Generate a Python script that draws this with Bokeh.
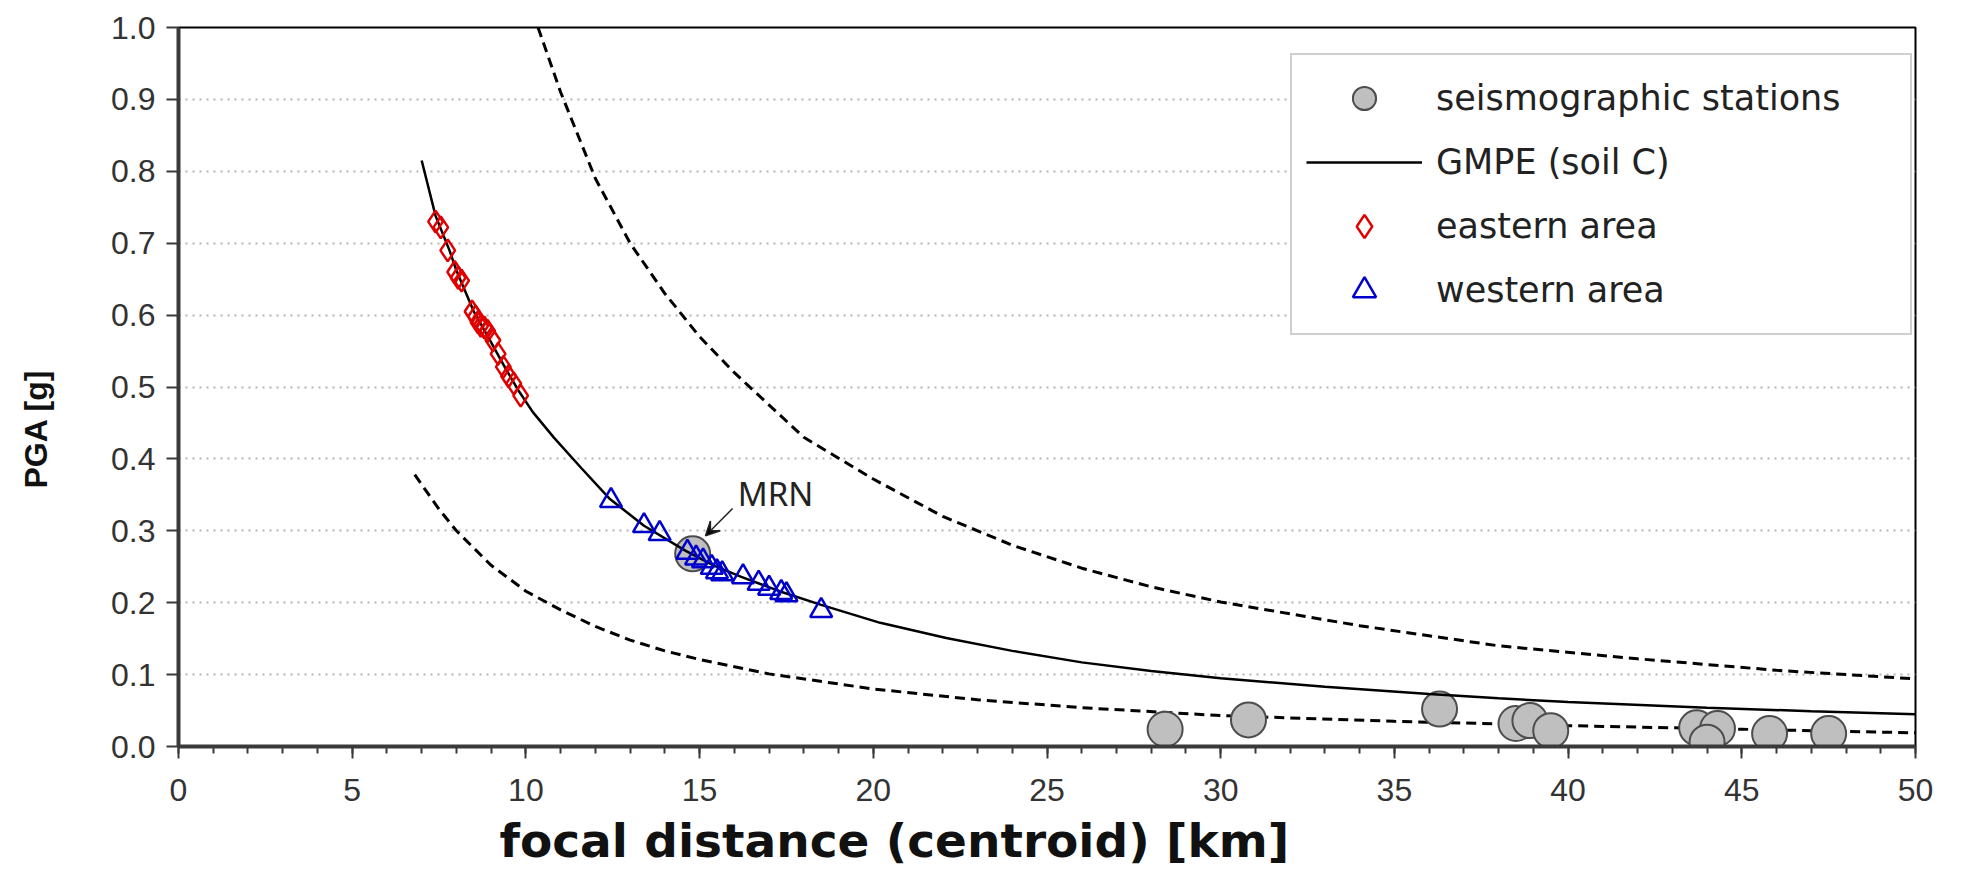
import numpy as np
from bokeh.plotting import figure
from bokeh.models import (Range1d, SingleIntervalTicker, NumeralTickFormatter, Legend,
                          LegendItem, Label, Arrow, VeeHead, Title)
from bokeh.embed import file_html
from bokeh.resources import INLINE

# ---------------- data ----------------
gmpe_dist = [7.0, 7.4, 7.8, 8.0, 8.5, 9.0, 9.4, 9.8, 10.2, 10.8, 11.6, 12.4, 13.4, 14.6, 15.4,
             16.2, 17.3, 18.5, 20.2, 22.1, 24.0, 26.0, 28.0, 30.0, 33.0, 36.0, 38.0, 40.0,
             44.0, 47.0, 50.0]
gmpe_pga = [0.815, 0.738, 0.690, 0.662, 0.605, 0.562, 0.527, 0.494, 0.465, 0.430, 0.387, 0.345,
            0.307, 0.272, 0.252, 0.236, 0.216, 0.197, 0.172, 0.151, 0.133, 0.117, 0.105, 0.095,
            0.083, 0.073, 0.067, 0.062, 0.054, 0.049, 0.045]

upper_dist = [10.35, 11.0, 12.0, 13.0, 14.0, 15.0, 16.0, 18.0, 20.0, 22.0, 24.0, 26.0, 28.0,
              30.0, 34.0, 38.0, 42.0, 46.0, 50.0]
upper_pga = [1.0, 0.91, 0.79, 0.70, 0.63, 0.57, 0.52, 0.43, 0.372, 0.32, 0.28, 0.248, 0.222,
             0.201, 0.168, 0.140, 0.122, 0.106, 0.094]

lower_dist = [6.8, 7.5, 8.0, 9.0, 10.0, 11.0, 12.0, 13.0, 14.0, 15.0, 17.0, 20.0, 23.0, 26.0,
              30.0, 35.0, 40.0, 45.0, 50.0]
lower_pga = [0.378, 0.330, 0.300, 0.252, 0.216, 0.190, 0.167, 0.148, 0.133, 0.121, 0.101, 0.080,
             0.065, 0.054, 0.043, 0.035, 0.029, 0.024, 0.019]

station_dist = [14.8, 28.4, 30.8, 36.3, 38.5, 38.9, 39.5, 43.7, 44.3, 44.0, 45.8, 47.5]
station_pga = [0.268, 0.024, 0.037, 0.052, 0.032, 0.036, 0.022, 0.026, 0.025, 0.006, 0.018, 0.018]

east_dist = [7.40, 7.55, 7.75, 7.95, 8.05, 8.15, 8.45, 8.55, 8.62, 8.70, 8.80, 8.90, 9.05, 9.20,
             9.35, 9.50, 9.65, 9.85]
east_pga = [0.730, 0.722, 0.690, 0.660, 0.652, 0.648, 0.605, 0.598, 0.590, 0.585, 0.583, 0.578,
            0.565, 0.546, 0.528, 0.515, 0.505, 0.488]

west_dist = [12.45, 13.40, 13.85, 14.65, 14.90, 15.10, 15.35, 15.50, 15.65, 16.25, 16.70, 17.00,
             17.35, 17.50, 18.50]
west_pga = [0.342, 0.307, 0.296, 0.270, 0.262, 0.258, 0.249, 0.243, 0.240, 0.236, 0.227, 0.220,
            0.214, 0.211, 0.189]

legend_labels = ["seismographic stations", "GMPE (soil C)", "eastern area", "western area"]
x_title = "focal distance (centroid) [km]"
y_title = "PGA [g]"
mrn_text = "MRN"
mrn_text_pos = (16.1, 0.352)
mrn_arrow_from = (15.95, 0.331)
mrn_arrow_to = (15.17, 0.293)

# ---------------- figure ----------------
p = figure(width=1963, height=889, output_backend="svg", toolbar_location=None,
           x_range=Range1d(0, 50), y_range=Range1d(0, 1.0),
           min_border_left=178, min_border_right=48, min_border_top=27, min_border_bottom=143)
p.background_fill_color = "white"
p.border_fill_color = "white"
p.outline_line_color = "black"
p.outline_line_width = 2

# axes
p.xaxis.ticker = SingleIntervalTicker(interval=5, num_minor_ticks=5)
p.yaxis.ticker = SingleIntervalTicker(interval=0.1, num_minor_ticks=0)
p.yaxis.formatter = NumeralTickFormatter(format="0.0")
for ax in (p.xaxis, p.yaxis):
    ax.axis_line_color = "#3a3a3a"
    ax.axis_line_width = 4
    ax.major_tick_line_color = "#3a3a3a"
    ax.major_tick_line_width = 2
    ax.major_tick_out = 12
    ax.major_tick_in = 0
    ax.minor_tick_line_color = "#3a3a3a"
    ax.minor_tick_line_width = 2
    ax.minor_tick_out = 7
    ax.minor_tick_in = 0
    ax.major_label_text_font = "Liberation Sans"
    ax.major_label_text_font_size = "32px"
    ax.major_label_text_color = "#333333"
p.xaxis.major_label_standoff = 20
p.yaxis.major_label_standoff = 11
# blank spacer label: pushes the y title (a Title panel) out to the left edge
p.yaxis.axis_label = " "
p.yaxis.axis_label_text_font_size = "10px"
p.yaxis.axis_label_standoff = 41

p.xgrid.grid_line_color = None
p.ygrid.grid_line_color = "#b4b4b4"
p.ygrid.grid_line_width = 2
p.ygrid.grid_line_dash = "2 5"

# curves
p.line(upper_dist, upper_pga, line_color="black", line_width=3, line_dash="10 6")
p.line(lower_dist, lower_pga, line_color="black", line_width=3, line_dash="10 6")

r_st = p.scatter(station_dist, station_pga, marker="circle", size=35,
                 fill_color="#bfbfbf", line_color="#4d4d4d", line_width=2)
r_gm = p.line(gmpe_dist, gmpe_pga, line_color="black", line_width=2.5)
r_e = p.scatter(east_dist, east_pga, marker="diamond", size=22,
                fill_color=None, line_color="#e00000", line_width=2.5)
r_w = p.scatter(west_dist, west_pga, marker="triangle", size=22,
                fill_color=None, line_color="#0000cc", line_width=2.5)

# MRN annotation
p.add_layout(Label(x=mrn_text_pos[0], y=mrn_text_pos[1], text=mrn_text,
                   text_font="Noto Sans", text_font_size="33px", text_color="#222222",
                   text_baseline="alphabetic", text_align="left"))
p.add_layout(Arrow(end=VeeHead(size=14, line_color="#222222", line_width=1.5),
                   x_start=mrn_arrow_from[0], y_start=mrn_arrow_from[1],
                   x_end=mrn_arrow_to[0], y_end=mrn_arrow_to[1],
                   line_color="#222222", line_width=1.5))

# axis titles (off-centre, as in the reference)
p.add_layout(Title(text=x_title, align="left", offset=321, standoff=14,
                   text_font="DejaVu Sans", text_font_style="bold", text_font_size="47px",
                   text_color="#111111"), "below")
p.add_layout(Title(text=y_title, align="left", offset=258, standoff=0,
                   text_font="Liberation Sans", text_font_style="bold", text_font_size="32px",
                   text_color="#111111"), "left")

# legend
legend = Legend(items=[LegendItem(label=legend_labels[0], renderers=[r_st]),
                       LegendItem(label=legend_labels[1], renderers=[r_gm]),
                       LegendItem(label=legend_labels[2], renderers=[r_e]),
                       LegendItem(label=legend_labels[3], renderers=[r_w])],
                location=(1112, 411), margin=0, padding=14, spacing=6,
                glyph_width=116, glyph_height=58, label_height=58, label_standoff=14,
                label_width=460,
                label_text_font="DejaVu Sans", label_text_font_size="35px",
                label_text_color="#222222",
                border_line_color="#a0a0a0", border_line_width=2,
                background_fill_color="white", background_fill_alpha=1.0)
p.add_layout(legend)

open("out.html", "w").write(file_html(p, INLINE))
